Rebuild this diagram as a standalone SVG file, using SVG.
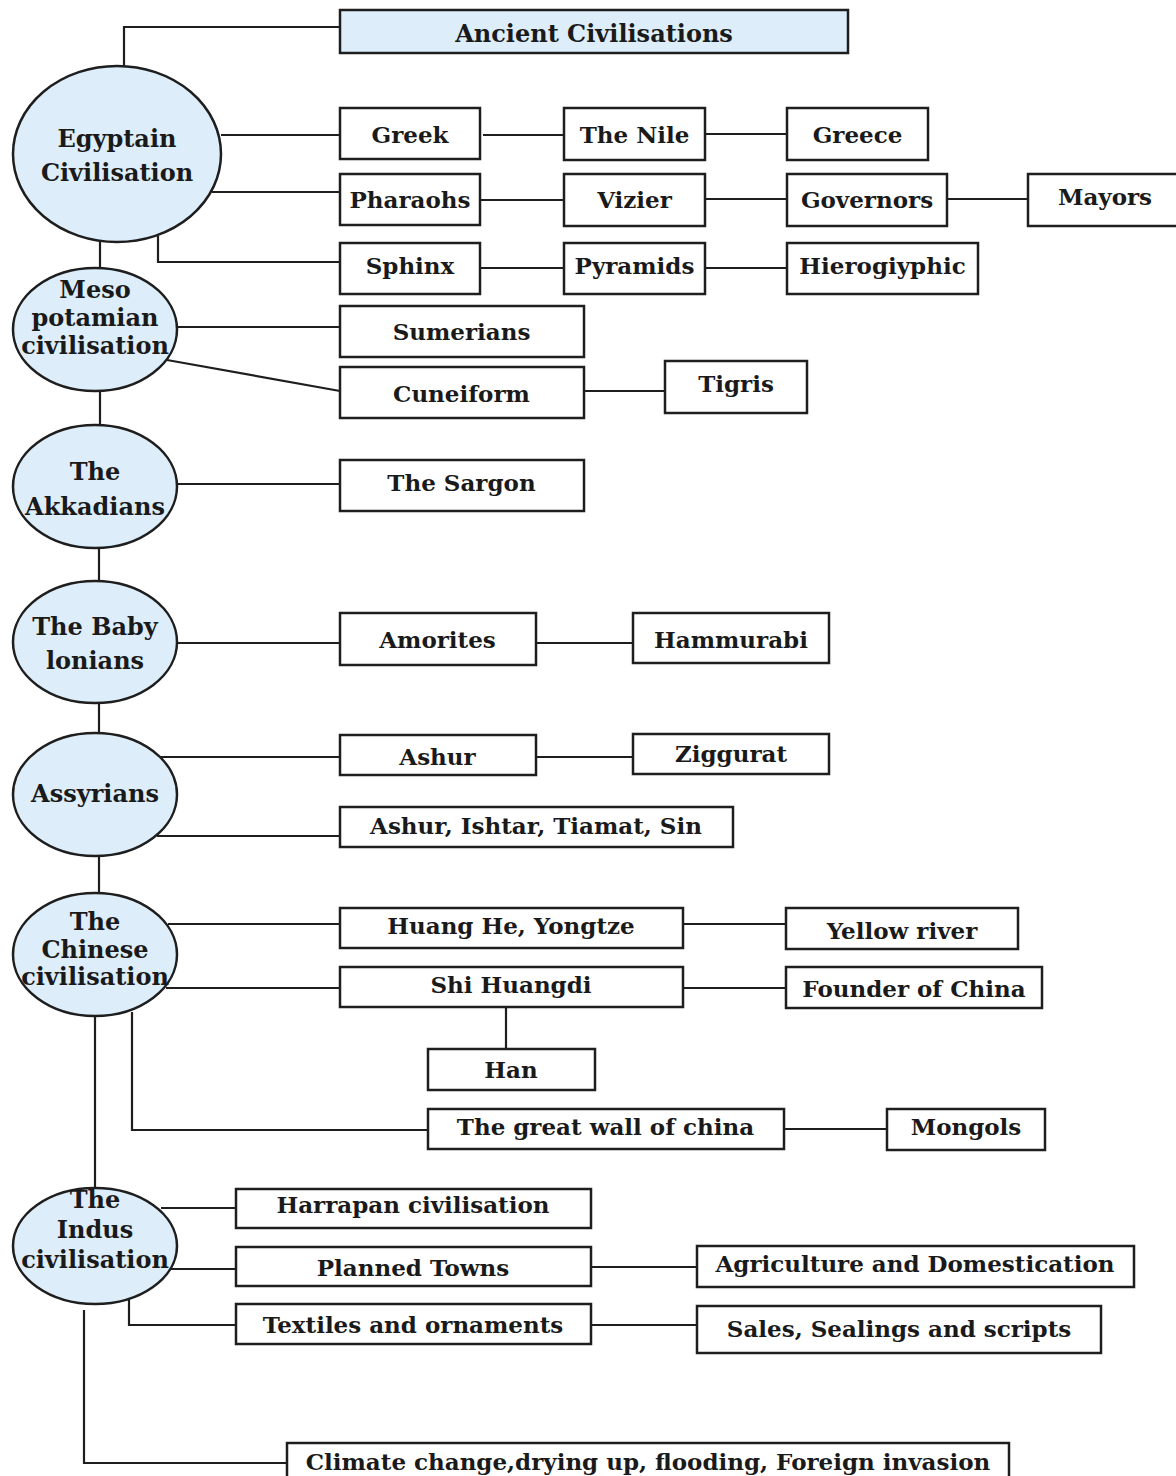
<svg xmlns="http://www.w3.org/2000/svg" width="1176" height="1476" viewBox="0 0 1176 1476">
<style>
.bx{fill:#fff;stroke:#1e1e1e;stroke-width:2.5}
.tb{fill:#ddeefa;stroke:#1e1e1e;stroke-width:2.5}
.el{fill:#ddeefa;stroke:#1e1e1e;stroke-width:2.5}
.ln{fill:none;stroke:#1e1e1e;stroke-width:2.2}
text{font-family:"DejaVu Serif","Liberation Serif",serif;font-weight:bold;font-size:23px;fill:#1a1a1a;text-anchor:middle}
.et{font-size:24px}
</style>
<rect width="1176" height="1476" fill="#fff"/>
<g id="connectors">
<path class="ln" d="M340 27H124V66"/>
<path class="ln" d="M221 135H340M483 135H564M705 134H787"/>
<path class="ln" d="M212 192H340M480 200H564M705 199H787M947 199H1028"/>
<path class="ln" d="M158 236V262H340M480 268H564M705 268H787"/>
<path class="ln" d="M100 242V268"/>
<path class="ln" d="M177 327H340M167 360L340 391M584 391H665"/>
<path class="ln" d="M100 391V425M177 484H340"/>
<path class="ln" d="M99 548V581M177 643H340M536 643H633"/>
<path class="ln" d="M99 703V733M161 757H340M536 757H633M157 836H340"/>
<path class="ln" d="M99 856V893"/>
<path class="ln" d="M168 924H340M683 924H786M166 988H340M683 988H786M506 1007V1049"/>
<path class="ln" d="M132 1012V1130H428M784 1129H887"/>
<path class="ln" d="M95 1016V1188"/>
<path class="ln" d="M161 1208H236M168 1269H236M591 1267H697"/>
<path class="ln" d="M129 1298V1325H236M591 1325H697"/>
<path class="ln" d="M84 1310V1463H287"/>
</g>
<g id="title"><rect class="tb" x="340" y="10" width="508" height="43"/><text x="594" y="42" class="et">Ancient Civilisations</text></g>
<g id="egypt"><ellipse class="el" cx="117" cy="154" rx="104" ry="88"/><text x="117" y="147" class="et">Egyptain</text><text x="117" y="181" class="et">Civilisation</text></g>
<g id="greek"><rect class="bx" x="340" y="108" width="140" height="51"/><text x="410" y="143">Greek</text></g>
<g id="nile"><rect class="bx" x="564" y="108" width="141" height="52"/><text x="634.5" y="143">The Nile</text></g>
<g id="greece"><rect class="bx" x="787" y="108" width="141" height="52"/><text x="857.5" y="143">Greece</text></g>
<g id="pharaohs"><rect class="bx" x="340" y="174" width="140" height="51"/><text x="410" y="208">Pharaohs</text></g>
<g id="vizier"><rect class="bx" x="564" y="174" width="141" height="52"/><text x="634.5" y="208">Vizier</text></g>
<g id="governors"><rect class="bx" x="787" y="174" width="160" height="52"/><text x="867" y="208">Governors</text></g>
<g id="mayors"><rect class="bx" x="1028" y="174" width="160" height="52"/><text x="1105" y="205">Mayors</text></g>
<g id="sphinx"><rect class="bx" x="340" y="243" width="140" height="51"/><text x="410" y="274">Sphinx</text></g>
<g id="pyramids"><rect class="bx" x="564" y="243" width="141" height="51"/><text x="634.5" y="274">Pyramids</text></g>
<g id="hiero"><rect class="bx" x="787" y="243" width="191" height="51"/><text x="882.5" y="274">Hierogiyphic</text></g>
<g id="meso"><ellipse class="el" cx="95" cy="329.5" rx="82" ry="61.5"/><text x="95" y="298" class="et">Meso</text><text x="95" y="326" class="et">potamian</text><text x="95" y="354" class="et">civilisation</text></g>
<g id="sumerians"><rect class="bx" x="340" y="306" width="244" height="51"/><text x="461.5" y="340">Sumerians</text></g>
<g id="cuneiform"><rect class="bx" x="340" y="367" width="244" height="51"/><text x="461.5" y="402">Cuneiform</text></g>
<g id="tigris"><rect class="bx" x="665" y="361" width="142" height="52"/><text x="736" y="392">Tigris</text></g>
<g id="akkad"><ellipse class="el" cx="95" cy="486.5" rx="82" ry="61.5"/><text x="95" y="480" class="et">The</text><text x="95" y="515" class="et">Akkadians</text></g>
<g id="sargon"><rect class="bx" x="340" y="460" width="244" height="51"/><text x="461.5" y="491">The Sargon</text></g>
<g id="babylon"><ellipse class="el" cx="95" cy="642" rx="82" ry="61"/><text x="95" y="635" class="et">The Baby</text><text x="95" y="669" class="et">lonians</text></g>
<g id="amorites"><rect class="bx" x="340" y="613" width="196" height="52"/><text x="437.5" y="648">Amorites</text></g>
<g id="hammurabi"><rect class="bx" x="633" y="613" width="196" height="50"/><text x="731" y="648">Hammurabi</text></g>
<g id="assyrians"><ellipse class="el" cx="95" cy="794.5" rx="82" ry="61.5"/><text x="95" y="802" class="et">Assyrians</text></g>
<g id="ashur"><rect class="bx" x="340" y="735" width="196" height="40"/><text x="437.5" y="765">Ashur</text></g>
<g id="ziggurat"><rect class="bx" x="633" y="734" width="196" height="40"/><text x="731" y="762">Ziggurat</text></g>
<g id="gods"><rect class="bx" x="340" y="807" width="393" height="40"/><text x="536" y="834">Ashur, Ishtar, Tiamat, Sin</text></g>
<g id="chinese"><ellipse class="el" cx="95" cy="954.5" rx="82" ry="61.5"/><text x="95" y="930" class="et">The</text><text x="95" y="958" class="et">Chinese</text><text x="95" y="985" class="et">civilisation</text></g>
<g id="huang"><rect class="bx" x="340" y="908" width="343" height="40"/><text x="511" y="934">Huang He, Yongtze</text></g>
<g id="yellow"><rect class="bx" x="786" y="908" width="232" height="41"/><text x="902" y="939">Yellow river</text></g>
<g id="shi"><rect class="bx" x="340" y="967" width="343" height="40"/><text x="511" y="993">Shi Huangdi</text></g>
<g id="founder"><rect class="bx" x="786" y="967" width="256" height="41"/><text x="914" y="997">Founder of China</text></g>
<g id="han"><rect class="bx" x="428" y="1049" width="167" height="41"/><text x="511" y="1078">Han</text></g>
<g id="wall"><rect class="bx" x="428" y="1109" width="356" height="40"/><text x="605.5" y="1135">The great wall of china</text></g>
<g id="mongols"><rect class="bx" x="887" y="1109" width="158" height="41"/><text x="966" y="1135">Mongols</text></g>
<g id="indus"><ellipse class="el" cx="95" cy="1246" rx="82" ry="58"/><text x="95" y="1208" class="et">The</text><text x="95" y="1238" class="et">Indus</text><text x="95" y="1268" class="et">civilisation</text></g>
<g id="harrapan"><rect class="bx" x="236" y="1189" width="355" height="39"/><text x="413" y="1213">Harrapan civilisation</text></g>
<g id="planned"><rect class="bx" x="236" y="1247" width="355" height="39"/><text x="413" y="1276">Planned Towns</text></g>
<g id="agri"><rect class="bx" x="697" y="1246" width="437" height="41"/><text x="915" y="1272">Agriculture and Domestication</text></g>
<g id="textiles"><rect class="bx" x="236" y="1304" width="355" height="40"/><text x="413" y="1333">Textiles and ornaments</text></g>
<g id="sales"><rect class="bx" x="697" y="1306" width="404" height="47"/><text x="899" y="1337">Sales, Sealings and scripts</text></g>
<g id="climate"><rect class="bx" x="287" y="1443" width="722" height="40"/><text x="648" y="1470">Climate change,drying up, flooding, Foreign invasion</text></g>
</svg>
